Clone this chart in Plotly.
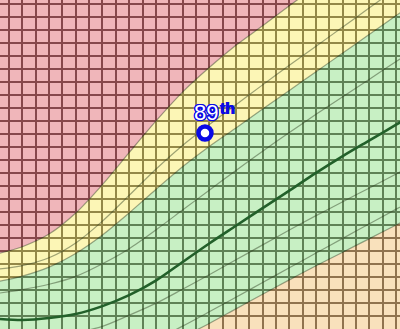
import plotly.graph_objects as go

# age axis in grid units (one grid cell per unit)
age = [-1, 1, 3, 5, 7, 9, 11, 13, 15, 17, 19, 21, 23, 25, 27, 29, 31]

# percentile curves (grid units)
p95 = [5.75, 6.33, 7.3, 8.92, 11.11, 13.57, 15.99, 18.22, 20.11, 21.82, 23.33, 24.86, 26.37, 27.87, 29.37, 30.87, 32.36]
p90 = [4.58, 4.88, 5.48, 6.62, 8.3, 10.28, 12.29, 14.12, 15.72, 17.25, 18.78, 20.28, 21.75, 23.23, 24.71, 26.18, 27.66]
p85 = [3.62, 4.07, 4.76, 5.81, 7.23, 8.93, 10.73, 12.48, 14.04, 15.47, 16.92, 18.35, 19.79, 21.23, 22.67, 24.11, 25.54]
p75 = [2.72, 3.03, 3.44, 4.05, 5.02, 6.18, 7.62, 9.15, 10.68, 12.2, 13.68, 15.12, 16.51, 17.86, 19.22, 20.57, 21.92]
p50 = [0.79, 0.69, 0.84, 1.15, 1.76, 2.6, 3.72, 5.15, 6.58, 7.94, 9.3, 10.65, 12.01, 13.3, 14.51, 15.72, 16.93]
p25 = [-0.86, -0.76, -0.65, -0.29, 0.2, 1.06, 1.97, 3.06, 4.17, 5.32, 6.47, 7.62, 8.72, 9.79, 10.85, 11.92, 12.99]
p10 = [-2.54, -2.46, -2.38, -2.08, -1.73, -1.35, -0.81, 0.22, 1.32, 2.44, 3.58, 4.71, 5.84, 6.97, 8.1, 9.22, 10.31]
p5 = [-3.54, -3.46, -3.23, -2.92, -2.65, -2.15, -1.58, -0.62, 0.43, 1.55, 2.67, 3.78, 4.86, 5.91, 6.95, 8.0, 9.08]

# patient point
pt_age = [14.68]
pt_val = [15.08]
pt_label = "89"
pt_sup = "th"

base = [-10] * len(age)
top = [40] * len(age)

PINK = "rgba(225,109,117,0.5)"
YELLOW = "rgba(249,237,109,0.5)"
GREEN = "rgba(145,225,137,0.5)"
BEIGE = "rgba(243,195,121,0.5)"
THIN = "rgba(45,60,30,0.45)"
BLUE = "#0a0ae6"
FONT = "Liberation Sans, Arial"

fig = go.Figure()

def band(y, fillcolor):
    fig.add_trace(go.Scatter(x=age, y=y, mode="lines", line=dict(width=0, shape="spline", smoothing=0.8),
                             fill="tonexty", fillcolor=fillcolor, hoverinfo="skip", showlegend=False))

fig.add_trace(go.Scatter(x=age, y=base, mode="lines", line=dict(width=0), hoverinfo="skip", showlegend=False))
band(p5, BEIGE)
band(p85, GREEN)
band(p95, YELLOW)
band(top, PINK)

for y in [p5, p10, p25, p75, p85, p90, p95]:
    fig.add_trace(go.Scatter(x=age, y=y, mode="lines",
                             line=dict(width=1.2, color=THIN, shape="spline", smoothing=0.8),
                             hoverinfo="skip", showlegend=False))

fig.add_trace(go.Scatter(x=age, y=p50, mode="lines",
                         line=dict(width=2.6, color="#22602a", shape="spline", smoothing=0.8),
                         hoverinfo="skip", showlegend=False))

fig.add_trace(go.Scatter(x=pt_age, y=pt_val, mode="markers",
                         marker=dict(symbol="circle", size=13, color="white", line=dict(width=4.5, color=BLUE)),
                         showlegend=False))

dirs = [(1, 0), (-1, 0), (0, 1), (0, -1), (0.7, 0.7), (-0.7, -0.7), (0.7, -0.7), (-0.7, 0.7)]
outline = ", ".join(f"{dx}px {dy}px 0 {BLUE}" for dx, dy in dirs)

# "89": bold blue body with outline, white regular core on top
fig.add_annotation(x=pt_age[0], y=pt_val[0], xref="x", yref="y", text=pt_label,
                   showarrow=False, xanchor="center", yanchor="bottom", xshift=1.5, yshift=6,
                   font=dict(family=FONT, size=22, color=BLUE, weight="bold", shadow=outline))
fig.add_annotation(x=pt_age[0], y=pt_val[0], xref="x", yref="y", text=pt_label,
                   showarrow=False, xanchor="center", yanchor="bottom", xshift=1.5, yshift=6,
                   font=dict(family=FONT, size=22, color="white"))
# superscript "th"
fig.add_annotation(x=pt_age[0], y=pt_val[0], xref="x", yref="y", text=pt_sup,
                   showarrow=False, xanchor="left", yanchor="bottom", xshift=13, yshift=13.5,
                   font=dict(family=FONT, size=16, color=BLUE, weight="bold",
                             shadow=f"0.5px 0 0 {BLUE}, -0.5px 0 0 {BLUE}"))

GRID = "rgb(45,35,35)"
fig.update_xaxes(range=[-9 / 13.35, 391 / 13.35], tick0=0, dtick=1, showgrid=True, gridcolor=GRID,
                 gridwidth=1.6, zeroline=False, showline=False, showticklabels=False, ticks="")
fig.update_yaxes(range=[0, 329 / 13], tick0=0, dtick=1, showgrid=True, gridcolor=GRID,
                 gridwidth=1.6, zeroline=False, showline=False, showticklabels=False, ticks="")
fig.update_layout(width=400, height=329, margin=dict(l=0, r=0, t=0, b=0),
                  paper_bgcolor="white", plot_bgcolor="white", showlegend=False)

fig.write_html("out.html", config={"displayModeBar": False})
